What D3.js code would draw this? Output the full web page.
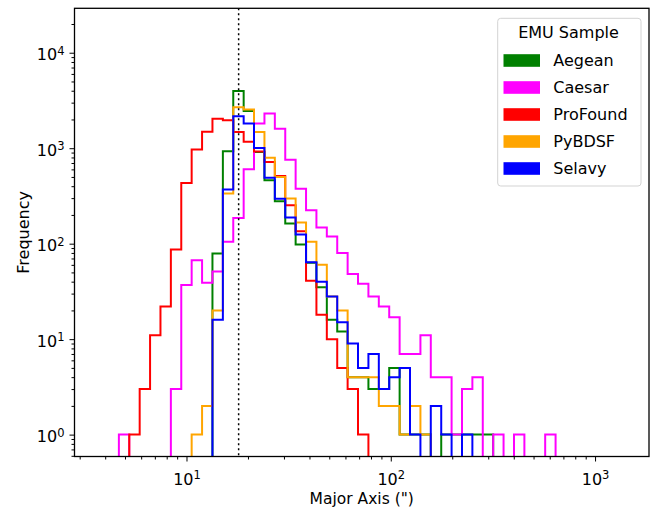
<!DOCTYPE html>
<html><head><meta charset="utf-8">
<script src="https://cdn.jsdelivr.net/npm/d3@7"></script>
<style>body{margin:0;background:#fff} text{font-family:"DejaVu Sans",sans-serif;fill:#000}</style>
</head><body><svg id="c" width="659" height="508"></svg>
<script>
// ---- data ----
const binEdges = [4.667,5.247,5.900,6.633,7.458,8.385,9.428,10.60,11.92,13.40,15.07,16.94,19.05,21.41,24.08,27.07,30.44,34.22,38.48,43.26,48.64,54.69,61.49,69.13,77.73,87.40,98.26,110.5,124.2,139.7,157.0,176.6,198.5,223.2,250.9,282.1,317.2,356.6,401.0,450.9,507.0,570.0,640.9];
const seriesNames = ["Aegean","Caesar","ProFound","PyBDSF","Selavy"];
const seriesColors = ["green","magenta","red","orange","blue"];
const aegean   = [0,0,0,0,0,0,0,0,0,79,930,3980,2450,915,462,279,163,98,63,35,16,12,4,4,3,3,5,1,1,1,0,1,1,1,1,1,0,0,0,0,0,0];
const caesar   = [1,0,0,0,0,3,37,67,39,51,105,186,603,1815,2308,1600,755,375,224,148,119,80,48,38,28,22,17,7,7,11,4,4,1,3,4,0,1,0,1,0,0,1];
const profound = [0,1,3,11,22,87,433,969,1490,2040,1960,1480,1165,925,715,510,253,135,41,18,10,5,3,1,0,0,0,0,0,0,0,0,0,0,0,0,0,0,0,0,0,0];
const pybdsf   = [0,0,0,0,0,0,0,1,2,20,336,2690,2540,1482,792,500,297,167,105,60,28,20,4,4,4,2,2,1,2,1,0,0,0,0,0,0,0,0,0,0,0,0];
const selavy   = [0,0,0,0,0,0,0,0,0,16,369,2160,1815,1007,489,295,188,125,64,40,28,15,9,5,7,3,4,5,1,0,2,1,0,1,0,0,0,0,0,0,0,0];
const seriesCounts = [aegean, caesar, profound, pybdsf, selavy];
const thresholdLine = 18;
const xDomain = [2.83, 1837];
const yDomain = [0.59, 29200];
const xMajor = [10, 100, 1000];
const yMajor = [1, 10, 100, 1000, 10000];
const xLabel = "Major Axis (\")";
const yLabel = "Frequency";
const legendTitle = "EMU Sample";

// ---- chart ----
const svg = d3.select("#c");
const m = {l:74.5, r:649, t:8.3, b:456.5};
const x = d3.scaleLog().domain(xDomain).range([m.l, m.r]);
const y = d3.scaleLog().domain(yDomain).range([m.b, m.t]);

svg.append("defs").append("clipPath").attr("id","clip")
  .append("rect").attr("x",m.l).attr("y",m.t).attr("width",m.r-m.l).attr("height",m.b-m.t);

const yPos = v => v > 0 ? y(v) : m.b + 20;

const plot = svg.append("g").attr("clip-path","url(#clip)");
seriesCounts.forEach((counts, si) => {
  const pts = [[x(binEdges[0]), yPos(0)]];
  counts.forEach((c, i) => {
    pts.push([x(binEdges[i]), yPos(c)]);
    pts.push([x(binEdges[i+1]), yPos(c)]);
  });
  pts.push([x(binEdges[binEdges.length-1]), yPos(0)]);
  plot.append("path").attr("d", d3.line()(pts))
    .attr("fill","none").attr("stroke", seriesColors[si])
    .attr("stroke-width",2).attr("stroke-linejoin","miter");
});

// threshold dotted line
plot.append("line").attr("x1",x(thresholdLine)).attr("x2",x(thresholdLine))
  .attr("y1",m.t).attr("y2",m.b).attr("stroke","#000").attr("stroke-width",1.5)
  .attr("stroke-dasharray","2,3");

// axes
const xMinor = x.ticks().filter(v => !xMajor.includes(v));
const yMinor = y.ticks().filter(v => !yMajor.includes(v));

svg.append("g").attr("transform",`translate(0,${m.b})`)
  .call(d3.axisBottom(x).tickValues(xMinor).tickSize(3).tickFormat(""));
const gx = svg.append("g").attr("transform",`translate(0,${m.b})`)
  .call(d3.axisBottom(x).tickValues(xMajor).tickSize(5).tickFormat(() => "10"));
gx.selectAll("text").attr("y",28.5).attr("dy",0).attr("font-size","16px")
  .each(function(d){ d3.select(this).append("tspan").attr("dy","-0.5em").attr("font-size","11.5px").text(Math.round(Math.log10(d))); });

svg.append("g").attr("transform",`translate(${m.l},0)`)
  .call(d3.axisLeft(y).tickValues(yMinor).tickSize(3).tickFormat(""));
const gy = svg.append("g").attr("transform",`translate(${m.l},0)`)
  .call(d3.axisLeft(y).tickValues(yMajor).tickSize(5).tickPadding(5).tickFormat(() => "10"));
gy.selectAll("text").attr("dy","0.45em").attr("font-size","16px")
  .each(function(d){ d3.select(this).append("tspan").attr("dy","-0.5em").attr("font-size","11.5px").text(Math.round(Math.log10(d))); });

svg.selectAll(".domain").remove();
svg.selectAll(".tick line").attr("stroke","#000").attr("stroke-width",1);

// frame
svg.append("rect").attr("x",m.l).attr("y",m.t).attr("width",m.r-m.l).attr("height",m.b-m.t)
  .attr("fill","none").attr("stroke","#000").attr("stroke-width",1.3);

// labels
svg.append("text").attr("x",(m.l+m.r)/2).attr("y",503.5).attr("text-anchor","middle")
  .attr("font-size","15.5px").text(xLabel);
svg.append("text").attr("transform",`translate(29,${(m.t+m.b)/2}) rotate(-90)`)
  .attr("text-anchor","middle").attr("font-size","16px").text(yLabel);

// legend
const lg = svg.append("g");
lg.append("rect").attr("x",497.7).attr("y",18.3).attr("width",143.3).attr("height",167.7)
  .attr("rx",3).attr("fill","#fff").attr("fill-opacity",0.8).attr("stroke","#d3d3d3");
lg.append("text").attr("x",568.5).attr("y",38).attr("text-anchor","middle")
  .attr("font-size","16px").text(legendTitle);
seriesNames.forEach((n, i) => {
  const cy = 60.5 + i*27;
  lg.append("rect").attr("x",503.5).attr("y",cy-6.3).attr("width",36.5).attr("height",12.6)
    .attr("fill",seriesColors[i]);
  lg.append("text").attr("x",553.3).attr("y",cy+5.3).attr("font-size","16px").text(n);
});
</script></body></html>
